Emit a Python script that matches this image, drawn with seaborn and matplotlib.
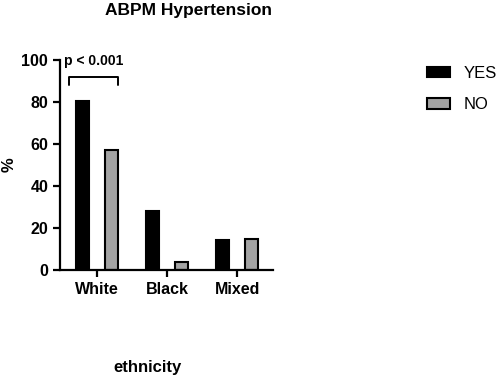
import pandas as pd
import matplotlib.pyplot as plt
import seaborn as sns

# ------ DATA ------
ethnicity = ["White", "Black", "Mixed"]
yes_pct = [80.5, 28.2, 14.2]
no_pct = [57.0, 3.6, 14.8]
groups = ["YES", "NO"]

data = pd.DataFrame({
    "ethnicity": ethnicity * 2,
    "pct": yes_pct + no_pct,
    "group": ["YES"] * 3 + ["NO"] * 3,
})

# ------ CHART ------
sns.set_style("ticks")
plt.rcParams['font.family'] = ['Liberation Sans', 'DejaVu Sans']
for key in ["text.color", "axes.labelcolor", "xtick.color", "ytick.color", "axes.edgecolor"]:
    plt.rcParams[key] = "black"

fig = plt.figure(figsize=(4.98, 3.79), dpi=100)
ax = fig.add_axes([0.1205, 0.2876, 0.428, 0.554])

sns.barplot(data=data, x="ethnicity", y="pct", hue="group",
            hue_order=groups, order=ethnicity,
            palette={"YES": "black", "NO": "#a3a3a3"},
            width=0.83, gap=0.55, edgecolor="black", linewidth=1.5,
            legend=False, ax=ax)

ax.set(ylim=(0, 100), xlim=(-0.53, 2.51))
ax.set_yticks([0, 20, 40, 60, 80, 100])
ax.set_xlabel("")
ax.set_ylabel("")

for side in ["top", "right"]:
    ax.spines[side].set_visible(False)
for side in ["left", "bottom"]:
    ax.spines[side].set_linewidth(1.6)
ax.tick_params(width=1.6, length=5, labelsize=11.5, direction="out")
for lbl in ax.get_xticklabels() + ax.get_yticklabels():
    lbl.set_fontweight("bold")

# significance bracket over White
bx0, bx1, by = -0.4, 0.29, 92
ax.plot([bx0, bx0, bx1, bx1], [by - 4, by, by, by - 4],
        color="black", lw=1.4, clip_on=False)
ax.text(-0.05, 96, "p < 0.001", ha="center", va="bottom",
        fontsize=10, fontweight="bold")

fig.text(0.378, 0.992, "ABPM Hypertension", ha="center", va="top",
         fontsize=12.5, fontweight="bold")
fig.text(0.297, 0.03, "ethnicity", ha="center", va="center",
         fontsize=12, fontweight="bold")
fig.text(0.018, 0.565, "%", ha="center", va="center", rotation=90,
         fontsize=12, fontweight="bold")

# legend
handles = [plt.Rectangle((0, 0), 1, 1, facecolor="black", edgecolor="black", lw=1.5),
           plt.Rectangle((0, 0), 1, 1, facecolor="#a3a3a3", edgecolor="black", lw=1.5)]
fig.legend(handles, groups, loc="upper left", bbox_to_anchor=(0.828, 0.866),
           frameon=False, fontsize=12, handlelength=1.35, handleheight=0.6,
           labelspacing=1.0, handletextpad=0.8)

fig.savefig("out.png", dpi=100)
